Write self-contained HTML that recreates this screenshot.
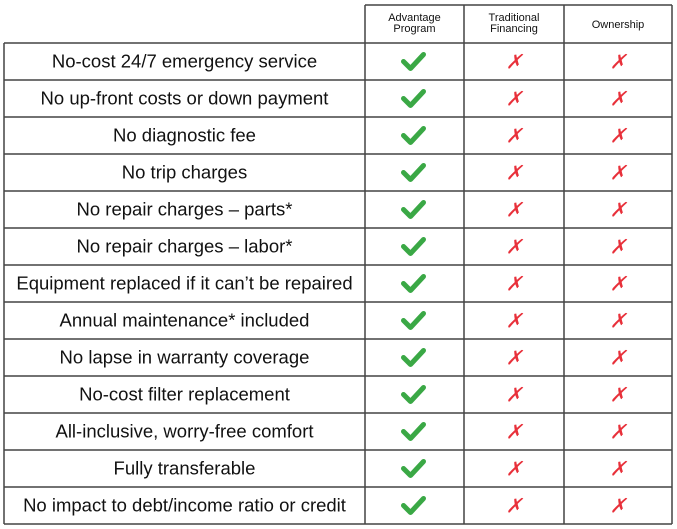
<!DOCTYPE html>
<html><head><meta charset="utf-8"><style>
html,body{margin:0;padding:0;background:#fff;width:677px;height:529px;overflow:hidden}
text{font-family:"Liberation Sans",sans-serif;fill:#111}
</style></head><body>
<svg width="677" height="529">
<g id="g"></g>
</svg>
<script>
const features=["No-cost 24/7 emergency service","No up-front costs or down payment","No diagnostic fee","No trip charges","No repair charges – parts*","No repair charges – labor*","Equipment replaced if it can’t be repaired","Annual maintenance* included","No lapse in warranty coverage","No-cost filter replacement","All-inclusive, worry-free comfort","Fully transferable","No impact to debt/income ratio or credit"];
const columns=[["Advantage","Program"],["Traditional","Financing"],["Ownership"]];
const values=[[1,0,0],[1,0,0],[1,0,0],[1,0,0],[1,0,0],[1,0,0],[1,0,0],[1,0,0],[1,0,0],[1,0,0],[1,0,0],[1,0,0],[1,0,0]];
const NS="http://www.w3.org/2000/svg",g=document.getElementById('g');
const xs=[4,365,464,564,672],top0=5,hb=43,bot=524,rh=(bot-hb)/features.length;
function el(t,a,p){const e=document.createElementNS(NS,t);for(const k in a)e.setAttribute(k,a[k]);(p||g).appendChild(e);return e;}
const L={stroke:"#444","stroke-width":1.5};
// header
columns.forEach((c,i)=>{const cx=(xs[i+1]+xs[i+2])/2;
 const t=el('text',{x:cx,y:c.length>1?21:28,"text-anchor":"middle","font-size":11});
 
 
 c.forEach((s,j)=>{const ts=el('tspan',{x:cx,dy:j?11:0},t);ts.textContent=s;});});
features.forEach((f,r)=>{const cy=hb+rh*r+rh/2;
 const t=el('text',{x:(xs[0]+xs[1])/2,y:cy+6,"text-anchor":"middle","font-size":18.5});
 t.textContent=f;
 
 
 values[r].forEach((v,i)=>{const cx=(xs[i+1]+xs[i+2])/2;
  if(v){const p=el('path',{d:`M${cx-11} ${cy}l7 7l13-14`,fill:"none",stroke:"#3aa845","stroke-width":5,"stroke-linecap":"round","stroke-linejoin":"round"});
   
   }
  else{const p=el('text',{x:cx,y:cy+7,"text-anchor":"middle","font-size":20,"font-style":"italic",style:"fill:#e8303a"});p.textContent="✗";
   
   }
 });});
// grid
el('line',Object.assign({x1:xs[1],y1:top0,x2:xs[4],y2:top0},L));
for(let r=0;r<=features.length;r++){const y=hb+rh*r;el('line',Object.assign({x1:xs[0],y1:y,x2:xs[4],y2:y},L));}
el('line',Object.assign({x1:xs[0],y1:hb,x2:xs[0],y2:bot},L));
for(let i=1;i<xs.length;i++)el('line',Object.assign({x1:xs[i],y1:top0,x2:xs[i],y2:bot},L));
</script>
</body></html>
